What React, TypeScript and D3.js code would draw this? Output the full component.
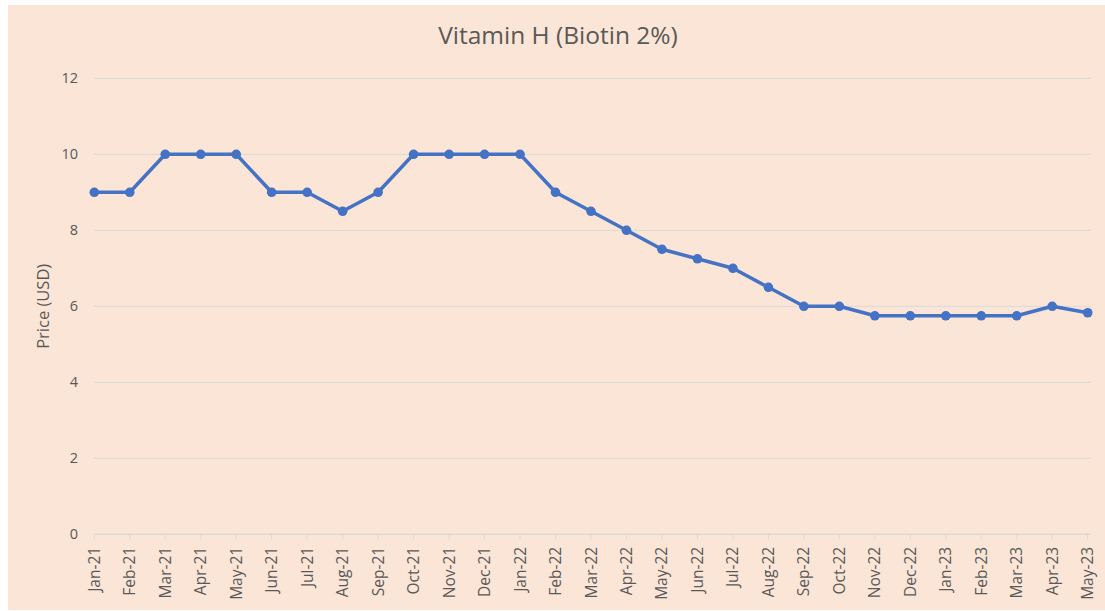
import React from "react";
import * as d3 from "d3";

const months = [
  "Jan-21","Feb-21","Mar-21","Apr-21","May-21","Jun-21","Jul-21","Aug-21","Sep-21","Oct-21","Nov-21","Dec-21",
  "Jan-22","Feb-22","Mar-22","Apr-22","May-22","Jun-22","Jul-22","Aug-22","Sep-22","Oct-22","Nov-22","Dec-22",
  "Jan-23","Feb-23","Mar-23","Apr-23","May-23",
];
const prices = [
  9, 9, 10, 10, 10, 9, 9, 8.5, 9, 10, 10, 10,
  10, 9, 8.5, 8, 7.5, 7.25, 7, 6.5, 6, 6, 5.75, 5.75,
  5.75, 5.75, 5.75, 6, 5.83,
];
const yTicks = [0, 2, 4, 6, 8, 10, 12];
const title = "Vitamin H (Biotin 2%)";
const yTitle = "Price (USD)";

const W = 1105;
const H = 611;
const FONT = "'Open Sans', sans-serif";
const TEXT = "#595959";

export default function App() {
  const x = d3.scalePoint<string>().domain(months).range([94.3, 1087.7]);
  const y = d3.scaleLinear().domain([0, 12]).range([534.3, 78.3]);
  const line = d3
    .line<number>()
    .x((_, i) => x(months[i]) as number)
    .y((d) => y(d));

  return (
    <div style={{ position: "fixed", left: 0, top: 0 }}>
      <svg width={W} height={H} style={{ display: "block" }}>
        <rect x={0} y={0} width={W} height={H} fill="#ffffff" />
        <rect x={8} y={5} width={W - 8} height={605} fill="#FBE5D6" />
        <text
          x={558}
          y={44}
          textAnchor="middle"
          fontFamily={FONT}
          fontSize={24.5}
          fill={TEXT}
        >
          {title}
        </text>
        {yTicks.map((t) => (
          <g key={t}>
            <line
              x1={94}
              x2={1091}
              y1={y(t)}
              y2={y(t)}
              stroke="#D9D9D9"
              strokeWidth={t === 0 ? 1.5 : 1}
            />
            <text
              x={78}
              y={y(t)}
              dy="0.35em"
              textAnchor="end"
              fontFamily={FONT}
              fontSize={14.5}
              fill={TEXT}
            >
              {t}
            </text>
          </g>
        ))}
        {months.map((m) => (
          <g key={m}>
            <line
              x1={x(m)}
              x2={x(m)}
              y1={y(0)}
              y2={y(0) + 5}
              stroke="#D9D9D9"
              strokeWidth={1}
            />
            <text
              transform={`translate(${(x(m) as number) + 5.5},${y(0) + 12.5}) rotate(-90)`}
              textAnchor="end"
              fontFamily={FONT}
              fontSize={15.5}
              fill={TEXT}
            >
              {m}
            </text>
          </g>
        ))}
        <text
          transform={`translate(49,${(y(0) + y(12)) / 2}) rotate(-90)`}
          textAnchor="middle"
          fontFamily={FONT}
          fontSize={16.5}
          fill={TEXT}
        >
          {yTitle}
        </text>
        <path
          d={line(prices) || ""}
          fill="none"
          stroke="#4472C4"
          strokeWidth={3.5}
          strokeLinejoin="round"
        />
        {prices.map((p, i) => (
          <circle
            key={months[i]}
            cx={x(months[i]) as number}
            cy={y(p)}
            r={4.8}
            fill="#4472C4"
          />
        ))}
      </svg>
    </div>
  );
}
